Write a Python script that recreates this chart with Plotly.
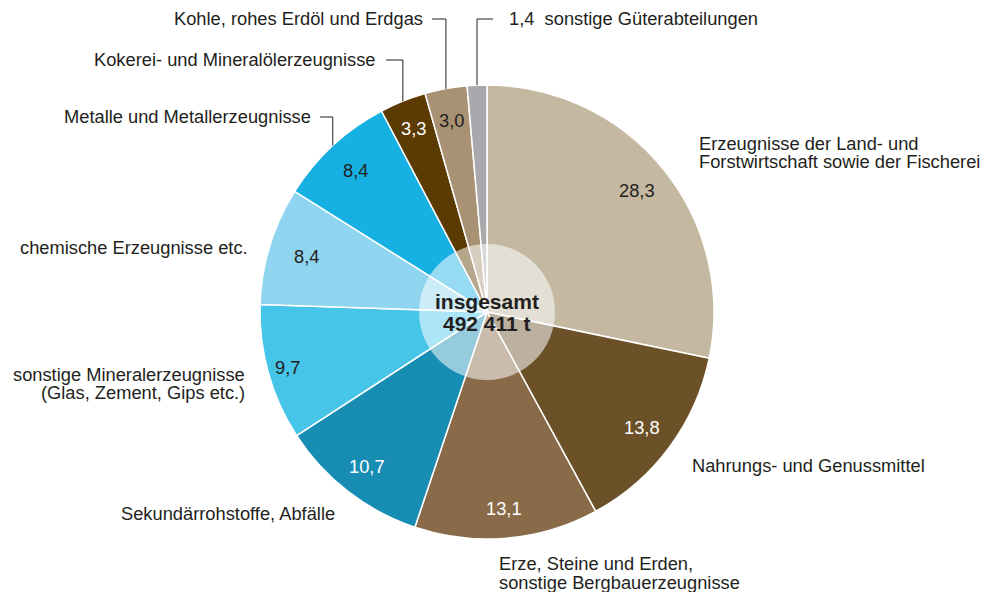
import math
import plotly.graph_objects as go

W, H = 989, 592
OFF = 8  # page body margin offset

# ---- data ----
categories = [
    "Erzeugnisse der Land- und<br>Forstwirtschaft sowie der Fischerei",
    "Nahrungs- und Genussmittel",
    "Erze, Steine und Erden,<br>sonstige Bergbauerzeugnisse",
    "Sekundärrohstoffe, Abfälle",
    "sonstige Mineralerzeugnisse<br>(Glas, Zement, Gips etc.)",
    "chemische Erzeugnisse etc.",
    "Metalle und Metallerzeugnisse",
    "Kokerei- und Mineralölerzeugnisse",
    "Kohle, rohes Erdöl und Erdgas",
    "sonstige Güterabteilungen",
]
values = [28.3, 13.8, 13.1, 10.7, 9.7, 8.4, 8.4, 3.3, 3.0, 1.4]
value_labels = ["28,3", "13,8", "13,1", "10,7", "9,7", "8,4", "8,4", "3,3", "3,0", "1,4"]
total_lines = ["insgesamt", "492 411 t"]

colors = ["#c4b9a0", "#6b5028", "#8a6b49", "#178db4", "#47c5e9",
          "#8fd5ef", "#17b0e2", "#5c3b02", "#a99273", "#a8a8ad"]
value_text_colors = ["#231f20", "#ffffff", "#ffffff", "#ffffff", "#231f20",
                     "#231f20", "#231f20", "#ffffff", "#231f20", "#231f20"]

# ---- layout geometry (screen pixels) ----
CX, CY, R = 487, 312, 227
R_IN = 68
TXT = "#231f20"
FONT = "Liberation Sans, Arial, Helvetica, sans-serif"
FS = 18.3
# radial position of value labels (fraction of radius)
value_radius = [0.85, 0.85, 0.87, 0.86, 0.91, 0.83, 0.85, 0.87, 0.86, 0.85]

# label placement: (x, y of first line, anchor, line spacing)
label_pos = [
    (697, 143, "left", 19),
    (690, 465, "left", 19),
    (497, 563, "left", 19),
    (337, 513, "right", 19),
    (247, 374, "right", 18),
    (250, 247, "right", 19),
    (313, 117, "right", 19),
    (377, 60, "right", 19),
    (425, 19, "right", 19),
    (507, 19, "left", 19),
]
# leader lines: index -> x where horizontal segment starts
leader_start = {6: 320, 7: 386, 8: 432, 9: 493}


def px(x):
    return (x - OFF) / W


def py(y):
    return 1 - (y - OFF) / H


total = sum(values)
mids = []
cum = 0.0
for v in values:
    mids.append((cum + v / 2) / total * 2 * math.pi)
    cum += v

fig = go.Figure()
fig.add_trace(go.Pie(
    values=values, labels=[c.replace("<br>", " ") for c in categories],
    sort=False, direction="clockwise", rotation=0,
    marker=dict(colors=colors, line=dict(color="white", width=1.5)),
    textinfo="none", hoverinfo="label+value", showlegend=False,
    domain=dict(x=[px(CX - R), px(CX + R)], y=[py(CY + R), py(CY - R)]),
))
fig.add_trace(go.Pie(
    values=[1], labels=["insgesamt"], sort=False,
    marker=dict(colors=["rgba(255,255,255,0.55)"], line=dict(width=0)),
    textinfo="none", hoverinfo="skip", showlegend=False,
    domain=dict(x=[px(CX - R_IN), px(CX + R_IN)], y=[py(CY + R_IN), py(CY - R_IN)]),
))

annotations = []
# value labels inside slices
for i, (lab, a) in enumerate(zip(value_labels, mids)):
    if i == 9:
        continue
    r = value_radius[i] * R
    x = CX + r * math.sin(a)
    y = CY - r * math.cos(a)
    annotations.append(dict(x=px(x), y=py(y), xref="paper", yref="paper", text=lab,
                            showarrow=False, xanchor="center", yanchor="middle",
                            font=dict(family=FONT, size=FS, color=value_text_colors[i])))

# category labels
for i, cat in enumerate(categories):
    x, y, anc, sp = label_pos[i]
    lines = cat.split("<br>")
    if i == 9:
        lines = [value_labels[9] + "\u00a0\u00a0" + lines[0]]
    for k, ln in enumerate(lines):
        annotations.append(dict(x=px(x), y=py(y + k * sp), xref="paper", yref="paper",
                                text=ln, showarrow=False, xanchor=anc, yanchor="middle",
                                font=dict(family=FONT, size=FS, color=TXT)))

# centre text
for k, t in enumerate(total_lines):
    annotations.append(dict(x=px(CX), y=py(CY - 11 + k * 22), xref="paper", yref="paper",
                            text="<b>" + t + "</b>", showarrow=False,
                            xanchor="center", yanchor="middle",
                            font=dict(family=FONT, size=21, color=TXT)))

# leader lines
shapes = []
for i, xs in leader_start.items():
    a = mids[i]
    xm = CX + R * math.sin(a)
    ye = CY - R * math.cos(a)
    yl = label_pos[i][1]
    path = f"M {px(xs)} {py(yl)} L {px(xm)} {py(yl)} L {px(xm)} {py(ye)}"
    shapes.append(dict(type="path", xref="paper", yref="paper", path=path,
                       line=dict(color=TXT, width=1)))

fig.update_layout(
    width=W, height=H, margin=dict(l=0, r=0, t=0, b=0),
    paper_bgcolor="white", plot_bgcolor="white",
    annotations=annotations, shapes=shapes, showlegend=False,
)

fig.write_html("out.html")
